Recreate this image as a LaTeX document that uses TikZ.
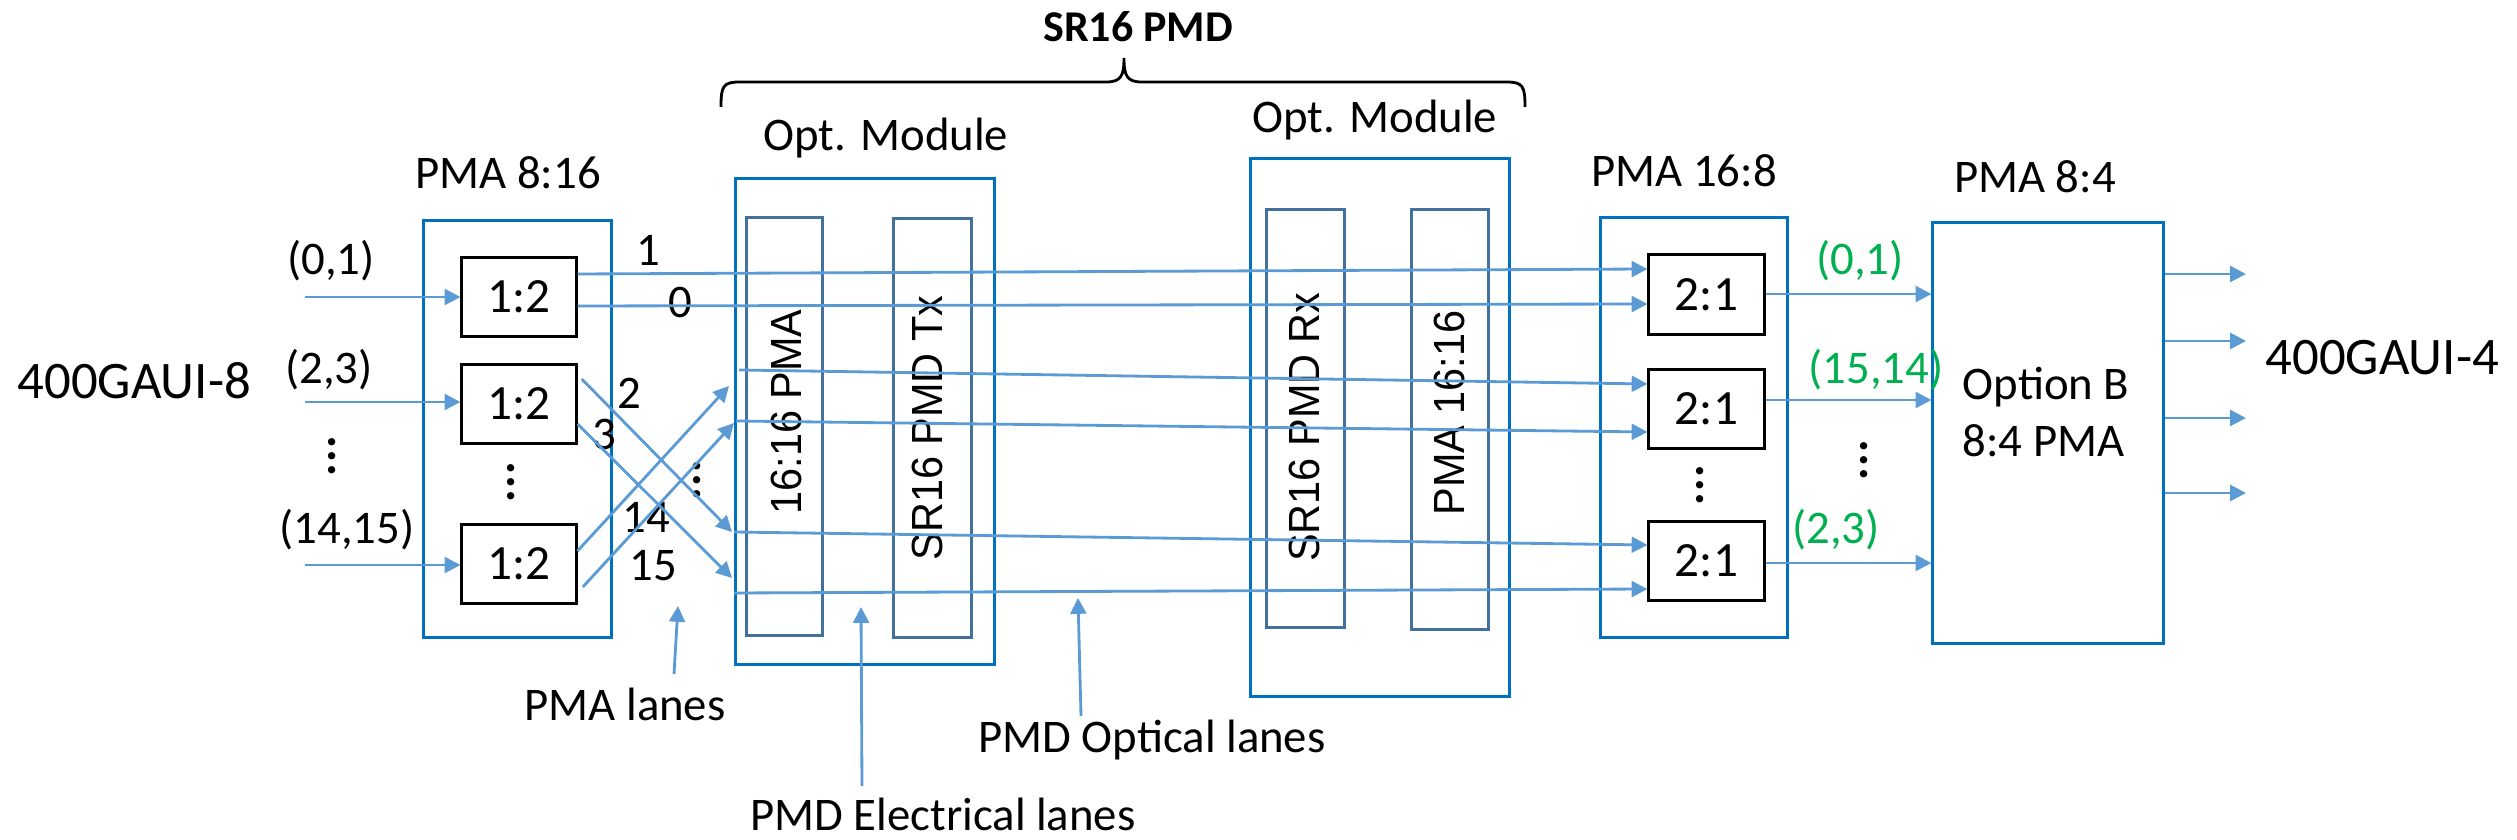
\documentclass[tikz,border=0pt]{standalone}
\usepackage{fontspec}
\usepackage{graphicx}
\setmainfont{Carlito}
\newfontfamily\arialf{Liberation Sans}
\usetikzlibrary{arrows.meta,calc}
\definecolor{boxblue}{HTML}{0070C0}
\definecolor{lanec}{HTML}{5B9BD5}
\definecolor{innerc}{HTML}{41719C}
\definecolor{grn}{HTML}{00B050}
\newcommand{\dotstack}{\vbox{\baselineskip=3.95pt\lineskiplimit=-20pt\lineskip=0pt\hbox{.}\hbox{.}\hbox{.}}}
\newcommand{\rtext}[1]{\scalebox{0.95}[1]{#1}}
\begin{document}
\begin{tikzpicture}[x=0.01cm,y=-0.01cm,
  outerbox/.style={draw=boxblue, line width=0.85pt, rectangle, inner sep=0pt},
  innerbox/.style={draw=innerc, line width=0.85pt, rectangle, inner sep=0pt},
  blackbox/.style={draw=black, line width=0.85pt, rectangle, inner sep=0pt, font=\fontsize{14}{16}\selectfont},
  lbl/.style={font=\fontsize{13.3}{16}\selectfont, inner sep=0pt},
  biglbl/.style={font=\fontsize{15}{18}\selectfont, inner sep=0pt},
  glbl/.style={font=\fontsize{13.3}{16}\selectfont, inner sep=0pt, text=grn},
  rotlbl/.style={font=\arialf\fontsize{12.4}{14}\selectfont, rotate=90, inner sep=0pt},
  dotslbl/.style={font=\bfseries\fontsize{14}{16}\selectfont, inner sep=0pt},
  laneline/.style={draw=lanec, line width=0.8pt},
  lanearr/.style={draw=lanec, line width=0.8pt, -{Triangle[length=4.5pt,width=4.5pt]}}
]
\useasboundingbox (0,0) rectangle (2517,840);

% title and brace
\node[font=\bfseries\fontsize{12.5}{15}\selectfont, inner sep=0pt] (title) at (1138,27) {SR16 PMD};
\draw[line width=0.8pt] (721,107) .. controls (721,86) and (723,82) .. (740,82) -- (1106,82)
  .. controls (1121,82) and (1124,76) .. (1124,58) .. controls (1124,76) and (1127,82) .. (1142,82)
  -- (1506,82) .. controls (1523,82) and (1525,86) .. (1525,107);

% group labels
\node[lbl] (lopt1) at (886,138) {Opt. Module};
\node[lbl] (lopt2) at (1375,120) {Opt. Module};
\node[lbl] (l816) at (508,173) {PMA 8:16};
\node[lbl] (l168) at (1684,171) {PMA 16:8};
\node[lbl] (l84) at (2035,177) {PMA 8:4};

% PMA 8:16
\node[outerbox, minimum width=1.87cm, minimum height=4.16cm] (pma816) at (517.5,429) {};
\node[blackbox, minimum width=1.14cm, minimum height=0.78cm] (a1) at (519,297) {1:2};
\node[blackbox, minimum width=1.14cm, minimum height=0.78cm] (a2) at (519,404) {1:2};
\node[blackbox, minimum width=1.14cm, minimum height=0.78cm] (a3) at (519,564) {1:2};
\node[dotslbl] (d816) at (511,482) {\dotstack};

% left optical module
\node[outerbox, minimum width=2.58cm, minimum height=4.85cm] (optL) at (865,421.5) {};
\node[innerbox, minimum width=0.75cm, minimum height=4.17cm] (inA) at (784.5,426.5) {};
\node[innerbox, minimum width=0.77cm, minimum height=4.18cm] (inB) at (932.5,428) {};
\node[rotlbl] (tA) at (786,412) {\rtext{16:16 PMA}};
\node[rotlbl] (tB) at (927,428) {\rtext{SR16 PMD Tx}};

% right optical module
\node[outerbox, minimum width=2.58cm, minimum height=5.37cm] (optR) at (1380,427.5) {};
\node[innerbox, minimum width=0.77cm, minimum height=4.17cm] (inC) at (1305.5,418.5) {};
\node[innerbox, minimum width=0.76cm, minimum height=4.19cm] (inD) at (1450,419.5) {};
\node[rotlbl] (tC) at (1304,427) {\rtext{SR16 PMD Rx}};
\node[rotlbl] (tD) at (1449,413) {\rtext{PMA 16:16}};

% PMA 16:8
\node[outerbox, minimum width=1.86cm, minimum height=4.19cm] (pma168) at (1694,427.5) {};
\node[blackbox, minimum width=1.15cm, minimum height=0.79cm] (b1) at (1706.5,294.5) {2:1};
\node[blackbox, minimum width=1.15cm, minimum height=0.78cm] (b2) at (1706.5,409) {2:1};
\node[blackbox, minimum width=1.15cm, minimum height=0.78cm] (b3) at (1706.5,561) {2:1};
\node[dotslbl] (d168) at (1700,485) {\dotstack};

% PMA 8:4
\node[outerbox, minimum width=2.30cm, minimum height=4.20cm] (pma84) at (2048,433) {};
\node[lbl, align=left, anchor=west, font=\fontsize{13.3}{16.2}\selectfont] (optb) at (1962,412) {Option B\\8:4 PMA};

% side labels
\node[biglbl, anchor=west] (gaui8) at (17,381) {400GAUI-8};
\node[biglbl, anchor=west] (gaui4) at (2265,358) {400GAUI-4};

% input labels
\node[lbl] (i01) at (331,261) {(0,1)};
\node[lbl] (i23) at (329,370) {(2,3)};
\node[lbl] (i1415) at (347,530) {(14,15)};
\node[dotslbl] (dleft) at (332,456) {\dotstack};

% input arrows
\coordinate (s1) at (305,297);
\coordinate (s2) at (305,402);
\coordinate (s3) at (305,565);
\draw[lanearr] (s1) -- (a1.west |- s1);
\draw[lanearr] (s2) -- (a2.west |- s2);
\draw[lanearr] (s3) -- (a3.west |- s3);

% lane numbers
\node[lbl] (n1) at (648,250) {1};
\node[lbl] (n0) at (680,302) {0};
\node[lbl] (n2) at (629,393) {2};
\node[lbl] (n3) at (604,434) {3};
\node[lbl] (n14) at (646,517) {14};
\node[lbl] (n15) at (653,566) {15};
\node[dotslbl] (dmid) at (697,480) {\dotstack};

% lanes 1 and 0 straight through
\draw[lanearr] (a1.east |- 0,274) -- (b1.west |- 0,269);
\draw[lanearr] (a1.east |- 0,306) -- (b1.west |- 0,304);

% crossing lanes
\coordinate (c2) at (732,532);
\coordinate (c3) at (732,578);
\coordinate (c14) at (729,386);
\coordinate (c15) at (734,423);
\draw[lanearr] ([xshift=1.2pt]a2.east |- 0,379) -- (c2);
\draw[lanearr] (a2.east |- 0,424) -- (c3);
\draw[lanearr] (a3.east |- 0,551) -- (c14);
\draw[lanearr] ([xshift=1.5pt]a3.east |- 0,587) -- (c15);

% horizontal lanes through modules
\coordinate (h3) at (739,370);
\coordinate (h4) at (736,421);
\coordinate (h5) at (734,532);
\coordinate (h6) at (734,593);
\draw[lanearr] (h3) -- (b2.west |- 0,384);
\draw[lanearr] (h4) -- (b2.west |- 0,432);
\draw[lanearr] (h5) -- (b3.west |- 0,545);
\draw[lanearr] (h6) -- (b3.west |- 0,589);

% 2:1 outputs
\draw[lanearr] (b1.east |- 0,294) -- (pma84.west |- 0,294);
\draw[lanearr] (b2.east |- 0,400) -- (pma84.west |- 0,400);
\draw[lanearr] (b3.east |- 0,563) -- (pma84.west |- 0,563);
\node[glbl] (g01) at (1860,261) {(0,1)};
\node[glbl] (g1514) at (1876,370) {(15,14)};
\node[glbl] (g23) at (1836,530) {(2,3)};
\node[dotslbl] (dr) at (1864,460) {\dotstack};

% 8:4 outputs
\coordinate (o1) at (2246,274);
\coordinate (o2) at (2246,341);
\coordinate (o3) at (2246,418);
\coordinate (o4) at (2246,493);
\draw[lanearr] (pma84.east |- o1) -- (o1);
\draw[lanearr] (pma84.east |- o2) -- (o2);
\draw[lanearr] (pma84.east |- o3) -- (o3);
\draw[lanearr] (pma84.east |- o4) -- (o4);

% pointer labels
\node[lbl] (lpma) at (625,704) {PMA lanes};
\node[lbl] (lopt) at (1152,740) {PMD Optical lanes};
\node[lbl] (lele) at (943,814) {PMD Electrical lanes};
\coordinate (p1s) at (674,674);
\coordinate (p1e) at (678,606);
\coordinate (p2s) at (862,786);
\coordinate (p2e) at (861,607);
\coordinate (p3s) at (1081,716);
\coordinate (p3e) at (1078,598);
\draw[lanearr] (p1s) -- (p1e);
\draw[lanearr] (p2s) -- (p2e);
\draw[lanearr] (p3s) -- (p3e);
\end{tikzpicture}
\end{document}
